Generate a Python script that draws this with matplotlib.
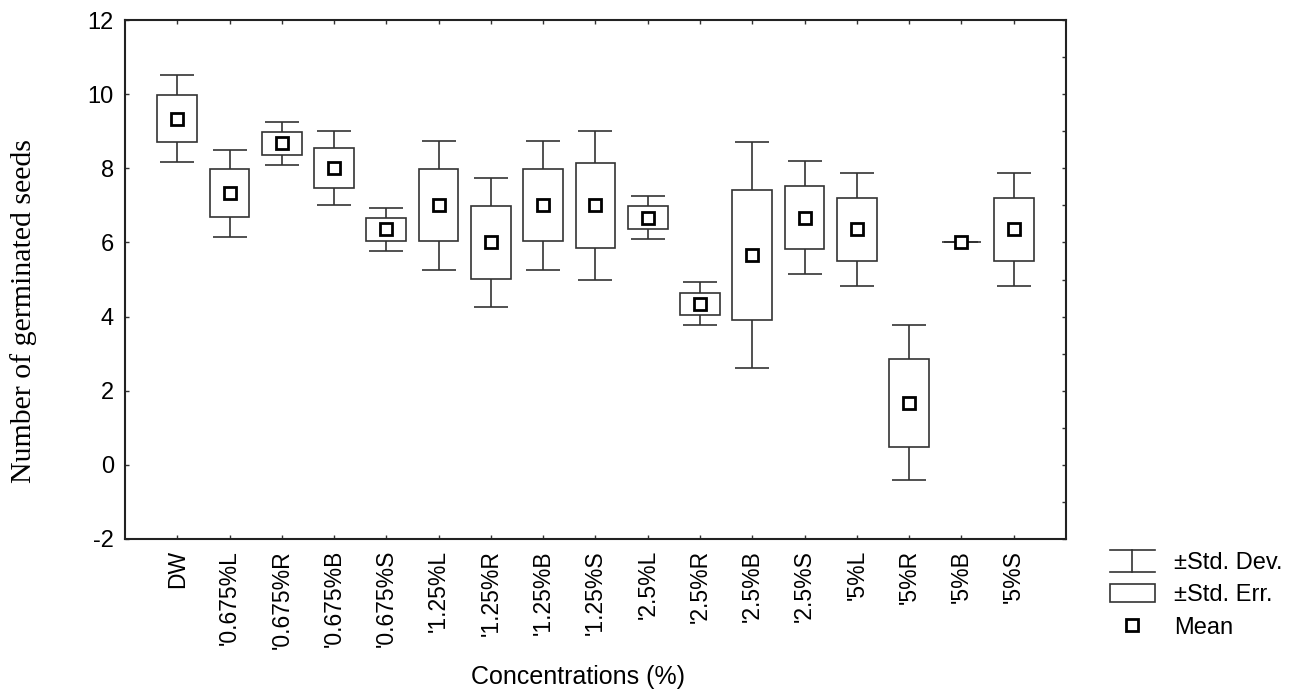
import numpy as np
import matplotlib
matplotlib.use('Agg')
import matplotlib.pyplot as plt
from matplotlib.lines import Line2D
from matplotlib.patches import Patch
from matplotlib.legend_handler import HandlerBase
from matplotlib.ticker import MultipleLocator

# treatments
labels = ["DW", "'0.675%L", "'0.675%R", "'0.675%B", "'0.675%S",
          "'1.25%L", "'1.25%R", "'1.25%B", "'1.25%S",
          "'2.5%L", "'2.5%R", "'2.5%B", "'2.5%S",
          "'5%L", "'5%R", "'5%B", "'5%S"]
means = [9.34, 7.33, 8.68, 8.01, 6.35, 7.0, 6.0, 7.0, 7.0,
         6.67, 4.34, 5.67, 6.67, 6.35, 1.67, 6.0, 6.35]
std_err = [0.64, 0.64, 0.31, 0.55, 0.31, 0.97, 0.98, 0.97, 1.15,
           0.31, 0.30, 1.75, 0.86, 0.86, 1.18, 0.0, 0.86]
std_dev = [1.17, 1.17, 0.58, 1.0, 0.59, 1.75, 1.73, 1.75, 2.0,
           0.58, 0.58, 3.05, 1.53, 1.53, 2.09, 0.0, 1.53]

lc = '#333333'
plt.rcParams['font.family'] = 'Liberation Sans'
plt.rcParams['axes.unicode_minus'] = False


class HandlerSD(HandlerBase):
    # the I-shaped std. dev. symbol
    def create_artists(self, legend, orig_handle, xdescent, ydescent,
                       width, height, fontsize, trans):
        x0, x1 = -xdescent, -xdescent + width
        y0, y1 = -ydescent - 0.1 * height, -ydescent + 1.1 * height
        xm = 0.5 * (x0 + x1)
        arts = [Line2D([x0, x1], [y1, y1]), Line2D([x0, x1], [y0, y0]),
                Line2D([xm, xm], [y0, y1])]
        for a in arts:
            a.set_color(lc)
            a.set_linewidth(1.2)
            a.set_transform(trans)
        return arts


def make_plot():
    fig = plt.figure(figsize=(13.03, 6.91), dpi=100)
    ax = fig.add_axes([0.0959, 0.22, 0.7222, 0.751])

    x = np.arange(1, len(labels) + 1)
    m = np.array(means)
    se = np.array(std_err)
    sd = np.array(std_dev)

    ax.errorbar(x, m, yerr=sd, fmt='none', ecolor=lc, elinewidth=1.2,
                capsize=12, capthick=1.2, zorder=2)
    ax.bar(x, 2 * se, bottom=m - se, width=0.76, facecolor='white',
           edgecolor=lc, linewidth=1.2, zorder=3)
    ax.plot(x, m, linestyle='none', marker='s', markersize=8,
            markerfacecolor='white', markeredgecolor='black',
            markeredgewidth=2, zorder=4)

    ax.set_xlim(0, len(labels) + 1)
    ax.set_ylim(-2, 12)
    ax.set_xticks(x)
    ax.set_xticklabels(labels, rotation=90, fontsize=16.5)
    ax.set_yticks(np.arange(-2, 13, 2))
    ax.tick_params(axis='y', labelsize=17, pad=8)
    ax.yaxis.set_minor_locator(MultipleLocator(1))
    ax.tick_params(which='both', direction='in', top=True, right=True,
                   length=3, width=1, color=lc)
    ax.tick_params(which='minor', left=False)
    ax.tick_params(axis='x', pad=8)
    for s in ax.spines.values():
        s.set_linewidth(1.5)
        s.set_color('#222222')

    fig.text(0.0184, 1 - 311 / 691, 'Number of germinated seeds', rotation=90,
             ha='center', va='center', fontsize=21.5, family='Liberation Serif')
    fig.text(578 / 1303, 1 - 677 / 691, 'Concentrations (%)', ha='center',
             va='center', fontsize=18)

    h_sd = Line2D([], [])
    h_se = Patch(facecolor='white', edgecolor=lc, linewidth=1.2)
    h_mean = Line2D([], [], linestyle='none', marker='s', markersize=8,
                    markerfacecolor='white', markeredgecolor='black',
                    markeredgewidth=2)
    fig.legend([h_sd, h_se, h_mean],
               ['\u00b1Std. Dev.', '\u00b1Std. Err.', 'Mean'],
               handler_map={h_sd: HandlerSD()},
               loc='upper left', bbox_to_anchor=(1110 / 1303, 1 - 552 / 691),
               bbox_transform=fig.transFigure, frameon=False,
               fontsize=17, borderpad=0, borderaxespad=0,
               handlelength=1.9, handleheight=0.8, handletextpad=0.8,
               labelspacing=0.42)

    fig.savefig('out.png', dpi=100)


if __name__ == '__main__':
    make_plot()
